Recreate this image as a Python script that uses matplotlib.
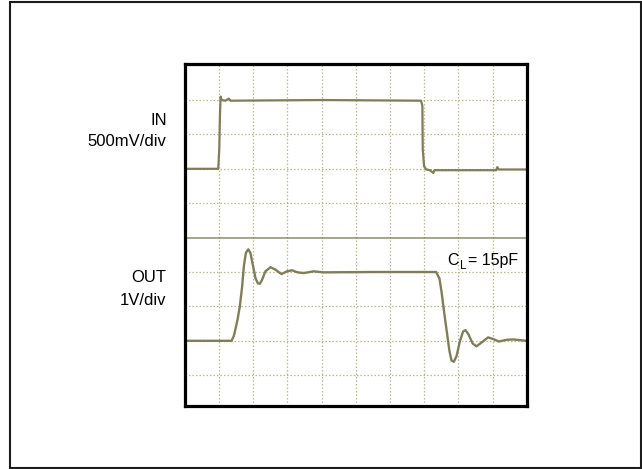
import matplotlib
matplotlib.use('Agg')
import matplotlib.pyplot as plt
import matplotlib.patches as mpatches

# scope screen, units are divisions (x: time, y: from bottom of screen)
in_t = [0.0, 0.98, 1.01, 1.03, 1.05, 1.08, 1.19, 1.29, 1.34, 4.0, 6.91,
        6.95, 6.96, 7.00, 7.06, 7.17, 7.27, 7.30, 9.11, 9.14, 9.18, 10.0]
in_v = [7.0, 7.0, 7.56, 8.52, 9.10, 9.0, 8.98, 9.04, 8.98, 9.0, 8.98,
        8.83, 7.56, 7.08, 6.98, 6.96, 6.88, 6.96, 6.96, 7.05, 6.98, 6.98]

out_t = [0.0, 1.37, 1.44, 1.54, 1.61, 1.68, 1.73, 1.79, 1.86, 1.92, 2.00,
         2.07, 2.14, 2.20, 2.26, 2.36, 2.51, 2.65, 2.83, 2.99, 3.14, 3.30,
         3.48, 3.77, 4.06, 5.5, 7.35, 7.45, 7.51, 7.58, 7.66, 7.74, 7.80,
         7.87, 7.95, 8.05, 8.14, 8.21, 8.29, 8.42, 8.53, 8.68, 8.87, 9.02,
         9.19, 9.41, 9.60, 9.80, 10.0]
out_v = [2.0, 2.0, 2.15, 2.59, 2.99, 3.58, 4.17, 4.56, 4.66, 4.56, 4.17,
         3.82, 3.67, 3.66, 3.77, 4.02, 4.14, 4.07, 3.94, 4.02, 4.05, 3.99,
         3.97, 4.02, 3.99, 4.0, 4.0, 3.81, 3.42, 2.88, 2.29, 1.71, 1.43,
         1.39, 1.56, 2.0, 2.27, 2.31, 2.2, 1.92, 1.84, 1.95, 2.1, 2.05,
         1.98, 2.03, 2.04, 2.02, 2.0]

ref_level = 5.0
n_div = 10

in_labels = ['IN', '500mV/div']
out_labels = ['OUT', '1V/div']
load_label = ['C', 'L', '= 15pF']

TRACE = '#807d5a'
GRID = '#bdb88c'
FONT = dict(family='Liberation Sans')

W, H = 642, 469

fig = plt.figure(figsize=(W / 100, H / 100), dpi=100)

# outer frame
fig.patches.append(mpatches.Rectangle(
    (10.3 / W, 1 - 467.7 / H), (640.8 - 10.3) / W, (467.7 - 2.5) / H,
    transform=fig.transFigure, fill=False, ec='#1c1c1c', lw=1.5))

x0, x1, y0, y1 = 184.7, 526.7, 64.0, 406.0
ax = fig.add_axes([x0 / W, 1 - y1 / H, (x1 - x0) / W, (y1 - y0) / H])
# graticule in the photo sits a little low inside the bezel
ax.set_xlim(0, n_div)
ax.set_ylim(0.105, 10.047)
ax.set_xticks([])
ax.set_yticks([])
for s in ax.spines.values():
    s.set_linewidth(2.3)
    s.set_color('black')
    s.set_zorder(5)

for k in range(1, n_div):
    ax.axvline(k, color=GRID, lw=0.9, ls=(0, (1.2, 1.6)), zorder=1)
    if k != ref_level:
        ax.axhline(k, color=GRID, lw=0.9, ls=(0, (1.2, 1.6)), zorder=1)

ax.axhline(ref_level, color='#8f8c6c', lw=1.1, zorder=2)

ax.plot(in_t, in_v, color=TRACE, lw=1.6, solid_joinstyle='round', zorder=3)
ax.plot(out_t, out_v, color=TRACE, lw=1.7, solid_joinstyle='round', zorder=3)

fs = 12
xr = 166.7 / W
fig.text(xr, 1 - 125 / H, in_labels[0], ha='right', va='baseline', fontsize=fs, **FONT)
fig.text(xr, 1 - 146 / H, in_labels[1], ha='right', va='baseline', fontsize=fs, **FONT)
fig.text(xr, 1 - 282 / H, out_labels[0], ha='right', va='baseline', fontsize=fs, **FONT)
fig.text(xr, 1 - 305 / H, out_labels[1], ha='right', va='baseline', fontsize=fs, **FONT)

fig.text(447.0 / W, 1 - 265 / H, load_label[0], ha='left', va='baseline', fontsize=11.5, **FONT)
fig.text(459.8 / W, 1 - 268.5 / H, load_label[1], ha='left', va='baseline', fontsize=8.5, **FONT)
fig.text(518.3 / W, 1 - 265 / H, load_label[2], ha='right', va='baseline', fontsize=11.5, **FONT)

fig.savefig('out.png', dpi=100)
